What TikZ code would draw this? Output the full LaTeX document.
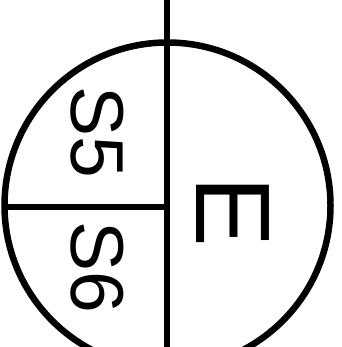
\documentclass[tikz,border=0pt]{standalone}
\usepackage{fontspec}
\setmainfont{Liberation Sans}
\begin{document}
\begin{tikzpicture}[x=1pt,y=1pt,
  lbl/.style={inner sep=0pt,rotate=-90,font=\fontsize{75}{75}\selectfont},
  big/.style={inner sep=0pt,rotate=-90,font=\fontsize{106}{106}\selectfont},
  wire/.style={line width=6pt}]
\useasboundingbox (0,0) rectangle (341,347);
\draw[line width=6.5pt] (167.5,141.5) circle (163);
\coordinate (top) at (167,347);
\coordinate (bot) at (167,0);
\coordinate (lft) at (7,140);
\coordinate (mid) at (167,140);
\draw[wire] (top) -- (bot);
\draw[wire] (lft) -- (mid);
\node[lbl] (s5) at (97,215) {S5};
\node[lbl] (s6) at (97,80) {S6};
\node[big] (e) at (233,135) {E};
\end{tikzpicture}
\end{document}
